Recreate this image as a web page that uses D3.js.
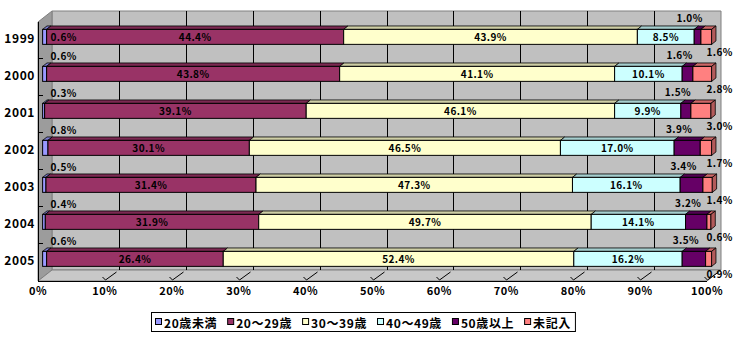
<!DOCTYPE html>
<html>
<head>
<meta charset="utf-8">
<script src="https://cdn.jsdelivr.net/npm/d3@7"></script>
<style>
  html, body { margin: 0; padding: 0; background: #ffffff; }
  svg { display: block; }
  text { font-family: "Noto Sans CJK JP", "Noto Sans", sans-serif; font-weight: bold; fill: #000; }
</style>
</head>
<body>
<svg id="chart" width="737" height="337"></svg>
<script>
// Age composition by year (percent), stacked 3D horizontal bars
const years = ["1999", "2000", "2001", "2002", "2003", "2004", "2005"];
const seriesNames = ["20歳未満", "20～29歳", "30～39歳", "40～49歳", "50歳以上", "未記入"];
const under20   = [0.6, 0.6, 0.3, 0.8, 0.5, 0.4, 0.6];
const age20s    = [44.4, 43.8, 39.1, 30.1, 31.4, 31.9, 26.4];
const age30s    = [43.9, 41.1, 46.1, 46.5, 47.3, 49.7, 52.4];
const age40s    = [8.5, 10.1, 9.9, 17.0, 16.1, 14.1, 16.2];
const over50    = [1.0, 1.6, 1.5, 3.9, 3.4, 3.2, 3.5];
const noAnswer  = [1.6, 2.8, 3.0, 1.7, 1.4, 0.6, 0.9];
const xTicks    = [0, 10, 20, 30, 40, 50, 60, 70, 80, 90, 100];

const seriesValues = [under20, age20s, age30s, age40s, over50, noAnswer];
const seriesColors = ["#9999FF", "#993366", "#FFFFCC", "#CCFFFF", "#660066", "#FF8080"];

const svg = d3.select("#chart");

// front plane of the plot box and the depth offset to the back wall
const pLeft = 38, pRight = 707, pTop = 22, pBottom = 281;
const depthX = 14, depthY = -11;
// bars occupy the middle slice of the depth
const barNear = 0.33, barFar = 0.64;

const x = d3.scaleLinear().domain([0, 100]).range([pLeft, pRight]);
const y = d3.scaleBand().domain(years).range([pTop, pBottom])
  .paddingInner(0.595).paddingOuter(0.2975);

const poly = pts => pts.map(p => p.join(",")).join(" ");

// walls and floor
const g = svg.append("g");
g.append("polygon") // back wall
  .attr("points", poly([[pLeft + depthX, pTop + depthY], [pRight + depthX, pTop + depthY],
                        [pRight + depthX, pBottom + depthY], [pLeft + depthX, pBottom + depthY]]))
  .attr("fill", "#C0C0C0").attr("stroke", "#808080").attr("stroke-width", 1);
g.append("polygon") // side wall
  .attr("points", poly([[pLeft, pTop], [pLeft + depthX, pTop + depthY],
                        [pLeft + depthX, pBottom + depthY], [pLeft, pBottom]]))
  .attr("fill", "#9C9C9C").attr("stroke", "#808080").attr("stroke-width", 1);
g.append("polygon") // floor
  .attr("points", poly([[pLeft, pBottom], [pLeft + depthX, pBottom + depthY],
                        [pRight + depthX, pBottom + depthY], [pRight, pBottom]]))
  .attr("fill", "#C8C8C8").attr("stroke", "#808080").attr("stroke-width", 1);

// vertical gridlines on the back wall and their run across the floor
xTicks.forEach(t => {
  const xf = Math.round(x(t)) + 0.5, xb = xf + depthX;
  if (t > 0 && t < 100) {
    g.append("line").attr("x1", xb).attr("x2", xb)
      .attr("y1", pTop + depthY).attr("y2", pBottom + depthY)
      .attr("stroke", "#000").attr("stroke-width", 1);
  }
  if (t > 0) {
    g.append("line").attr("x1", xf).attr("y1", pBottom - 1)
      .attr("x2", xb - 3).attr("y2", pBottom + depthY + 2)
      .attr("stroke", "#000").attr("stroke-width", 1);
    g.append("line").attr("x1", xf - 3).attr("y1", pBottom - 4)
      .attr("x2", xf).attr("y2", pBottom - 1)
      .attr("stroke", "#000").attr("stroke-width", 1);
  }
});
// front edges of the floor and side
g.append("line").attr("x1", pLeft).attr("x2", pRight).attr("y1", pBottom + 0.5).attr("y2", pBottom + 0.5)
  .attr("stroke", "#000");
g.append("line").attr("x1", pLeft + 0.5).attr("x2", pLeft + 0.5).attr("y1", pTop).attr("y2", pBottom)
  .attr("stroke", "#000");
// category tick marks on the side wall
d3.range(1, years.length).forEach(i => {
  const yy = Math.round(pTop + y.step() * i) - 0.5;
  g.append("line").attr("x1", pLeft).attr("x2", pLeft + 5).attr("y1", yy).attr("y2", yy)
    .attr("stroke", "#000");
});

// stacked bars
const fx = barNear * depthX, fy = barNear * depthY;        // front face offset
const bx = (barFar - barNear) * depthX, by = (barFar - barNear) * depthY; // bar depth
const bars = svg.append("g");
years.forEach((yr, i) => {
  const y0 = y(yr) + fy, y1 = y0 + y.bandwidth();
  let acc = 0;
  seriesValues.forEach((vals, s) => {
    const a = x(acc) + fx, b = x(acc + vals[i]) + fx;
    acc += vals[i];
    const col = d3.color(seriesColors[s]);
    bars.append("polygon") // top face
      .attr("points", poly([[a, y0], [a + bx, y0 + by], [b + bx, y0 + by], [b, y0]]))
      .attr("fill", col.darker(0.6)).attr("stroke", "#000").attr("stroke-width", 0.8);
    bars.append("rect") // front face
      .attr("x", a).attr("y", y0).attr("width", b - a).attr("height", y1 - y0)
      .attr("fill", col).attr("stroke", "#000").attr("stroke-width", 1);
    if (s === seriesValues.length - 1) {
      bars.append("polygon") // end face
        .attr("points", poly([[b, y0], [b + bx, y0 + by], [b + bx, y1 + by], [b, y1]]))
        .attr("fill", col.darker(1)).attr("stroke", "#000").attr("stroke-width", 0.8);
    }
  });
});

// data labels
const labels = svg.append("g").attr("font-size", 10).attr("letter-spacing", 0.4);
years.forEach((yr, i) => {
  const yc = y(yr) + fy + y.bandwidth() / 2;
  let acc = 0;
  seriesValues.forEach((vals, s) => {
    const v = vals[i];
    const a = x(acc) + fx, b = x(acc + v) + fx;
    acc += v;
    let lx = (a + b) / 2, ly = yc;
    if (s === 0) {
      // thin first segment: label sits above the bar, or on the next segment when there is no room
      lx = x(0) + fx + 21;
      ly = i === 0 ? yc : yc - 18;
    } else if (s === 4) {
      lx = (a + b) / 2 - 8; ly = yc - 19.5;
    } else if (s === 5) {
      lx = x(100) + fx + 8; ly = yc + 15;
    }
    labels.append("text").attr("x", lx).attr("y", ly)
      .attr("text-anchor", "middle").attr("dominant-baseline", "central")
      .text(v.toFixed(1) + "%");
  });
});

// category axis labels
const catAxis = svg.append("g").attr("font-size", 12).attr("letter-spacing", 0.6);
years.forEach(yr => {
  catAxis.append("text").attr("x", 35).attr("y", y(yr) + fy + y.bandwidth() / 2 + 1)
    .attr("text-anchor", "end").attr("dominant-baseline", "central").text(yr);
});

// value axis labels
const valAxis = svg.append("g").attr("font-size", 11).attr("letter-spacing", 0.5);
xTicks.forEach(t => {
  valAxis.append("text").attr("x", x(t)).attr("y", 290)
    .attr("text-anchor", "middle").attr("dominant-baseline", "central").text(t + "%");
});

// legend
const legend = svg.append("g").attr("font-size", 12);
const legendBox = legend.append("rect").attr("fill", "#fff").attr("stroke", "#000").attr("stroke-width", 1);
let lxPos = 155;
seriesNames.forEach((name, s) => {
  legend.append("rect").attr("x", lxPos + 0.5).attr("y", 318.5).attr("width", 6).attr("height", 6)
    .attr("fill", seriesColors[s]).attr("stroke", "#000").attr("stroke-width", 1);
  const t = legend.append("text").attr("x", lxPos + 9).attr("y", 322)
    .attr("dominant-baseline", "central").attr("letter-spacing", 0.6).text(name);
  lxPos += 9 + t.node().getComputedTextLength() + 10;
});
legendBox.attr("x", 151.5).attr("y", 312.5).attr("width", lxPos - 151 - 6).attr("height", 19);
</script>
</body>
</html>
